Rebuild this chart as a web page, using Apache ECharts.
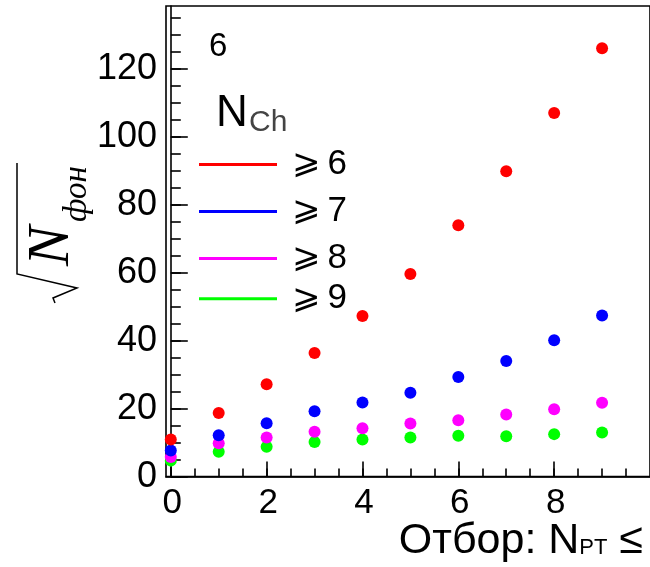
<!DOCTYPE html>
<html>
<head>
<meta charset="utf-8">
<script src="https://cdn.jsdelivr.net/npm/echarts@6/dist/echarts.min.js"></script>
<style>html,body{margin:0;padding:0;background:#fff}#c{width:650px;height:567px}</style>
</head>
<body>
<div id="c"></div>
<script>
// ---- data ----
const xValues = [0, 1, 2, 3, 4, 5, 6, 7, 8, 9];
const seriesNames = ['⩾6', '⩾7', '⩾8', '⩾9'];
const nch6 = [10.9, 18.7, 27.2, 36.4, 47.3, 59.6, 74.0, 89.9, 107.0, 126.1];
const nch7 = [7.7, 12.2, 15.7, 19.2, 21.8, 24.7, 29.3, 34.0, 40.1, 47.4];
const nch8 = [5.8, 9.8, 11.5, 13.2, 14.2, 15.6, 16.6, 18.3, 19.8, 21.7];
const nch9 = [4.7, 7.3, 8.8, 10.2, 10.9, 11.5, 12.0, 11.9, 12.5, 13.0];
const xMajorTicks = [0, 2, 4, 6, 8];
const xMinorTicks = [0, 0.5, 1, 1.5, 2, 2.5, 3, 3.5, 4, 4.5, 5, 5.5, 6, 6.5, 7, 7.5, 8, 8.5, 9, 9.5];
const yMajorTicks = [0, 20, 40, 60, 80, 100, 120];
const yMinorTicks = [0, 5, 10, 15, 20, 25, 30, 35, 40, 45, 50, 55, 60, 65, 70, 75, 80, 85, 90, 95, 100, 105, 110, 115, 120, 125, 130, 135];

// ---- layout / style ----
const colors = ['#ff0000', '#0000ff', '#ff00ff', '#00ff00'];
const legendCenters = [164.6, 211.6, 258.6, 298.7];
const SANS = '"Liberation Sans", Arial, Helvetica, sans-serif';
const SERIF = '"Liberation Serif", "Times New Roman", serif';
const X_MIN = -0.1, X_MAX = 10, Y_MIN = 0, Y_MAX = 138.5;

const allSeries = [nch6, nch7, nch8, nch9];

const chart = echarts.init(document.getElementById('c'), null, {renderer: 'canvas'});

const axisLineStyle = {color: '#000', width: 1.6};
const LEG_H = 40;

const option = {
  animation: false,
  backgroundColor: '#fff',
  grid: {left: 166, top: 6, width: 492, height: 470.6, show: true, borderColor: '#000', borderWidth: 1.6, backgroundColor: 'transparent'},
  xAxis: [
    {type: 'value', min: X_MIN, max: X_MAX, position: 'bottom',
     axisLine: {show: true, lineStyle: axisLineStyle},
     axisTick: {show: true, inside: true, length: 15, customValues: xMajorTicks, lineStyle: {color: '#000', width: 1.6}},
     axisLabel: {show: true, customValues: xMajorTicks, fontSize: 35, fontFamily: SANS, color: '#000', margin: 9, padding: [0, 0, 0, 3]},
     splitLine: {show: false}},
    {type: 'value', min: X_MIN, max: X_MAX, position: 'bottom',
     axisLine: {show: false},
     axisTick: {show: true, inside: true, length: 8, customValues: xMinorTicks, lineStyle: {color: '#000', width: 1.6}},
     axisLabel: {show: false},
     splitLine: {show: false}}
  ],
  yAxis: [
    {type: 'value', min: Y_MIN, max: Y_MAX, position: 'left',
     axisLine: {show: true, lineStyle: axisLineStyle},
     axisTick: {show: true, inside: true, length: 17, customValues: yMajorTicks, lineStyle: {color: '#000', width: 1.6}},
     axisLabel: {show: true, customValues: yMajorTicks, fontSize: 36, fontFamily: SANS, color: '#000', margin: 9},
     splitLine: {show: false}},
    {type: 'value', min: Y_MIN, max: Y_MAX, position: 'left',
     axisLine: {show: false},
     axisTick: {show: true, inside: true, length: 10, customValues: yMinorTicks, lineStyle: {color: '#000', width: 1.6}},
     axisLabel: {show: false},
     splitLine: {show: false}}
  ],
  legend: seriesNames.map((n, i) => ({
    data: [n], left: 199, top: legendCenters[i] - LEG_H / 2, orient: 'horizontal', padding: 0,
    icon: 'rect', itemWidth: 78, itemHeight: 3, itemGap: 0,
    selectedMode: false,
    formatter: name => '{g|' + name.slice(0, 1) + '}{d|' + name.slice(1) + '}',
    textStyle: {color: '#000', lineHeight: LEG_H, height: LEG_H,
      rich: {
        g: {fontSize: 34, fontFamily: '"DejaVu Sans", ' + SANS, color: '#000', padding: [0, 7, 0, 10], lineHeight: LEG_H, height: LEG_H},
        d: {fontSize: 35, fontFamily: SANS, color: '#000', lineHeight: LEG_H, height: LEG_H}
      }}
  })),
  series: allSeries.map((vals, i) => ({
    name: seriesNames[i], type: 'scatter', xAxisIndex: 0, yAxisIndex: 0,
    symbol: 'circle', symbolSize: 12,
    itemStyle: {color: colors[i], opacity: 1},
    data: xValues.map((x, k) => [x, vals[k]]),
    z: 10 - i
  })),
  graphic: [
    {type: 'text', x: 209, y: 47, style: {text: '6', font: '33px ' + SANS, fill: '#000', align: 'left', verticalAlign: 'middle'}},
    {type: 'text', x: 216, y: 114, style: {text: 'N', font: '44px ' + SANS, fill: '#000', align: 'left', verticalAlign: 'middle'}},
    {type: 'text', x: 249, y: 123, style: {text: 'Ch', font: '30px ' + SANS, fill: '#444', align: 'left', verticalAlign: 'middle'}},
    {type: 'text', x: 643, y: 541, style: {
      text: '{a|Отбор: N}{b|PT}{a| ≤}', fill: '#000', align: 'right', verticalAlign: 'middle',
      rich: {a: {fontSize: 43, fontFamily: SANS, verticalAlign: 'bottom'},
             b: {fontSize: 22, fontFamily: SANS, verticalAlign: 'bottom', padding: [0, 0, 4, 0]}}}},
    {type: 'text', x: 52, y: 246, rotation: Math.PI / 2, style: {text: 'N', font: 'italic 60px ' + SERIF, fill: '#000', align: 'center', verticalAlign: 'middle'}},
    {type: 'text', x: 77, y: 194, rotation: Math.PI / 2, style: {text: 'фон', font: 'italic 33px ' + SERIF, fill: '#000', align: 'center', verticalAlign: 'middle'}},
    {type: 'polyline', shape: {points: [[17, 163], [17, 274], [77, 288], [53, 298], [55, 303]]}, style: {stroke: '#000', lineWidth: 1.5, fill: null}}
  ]
};
chart.setOption(option);
</script>
</body>
</html>
